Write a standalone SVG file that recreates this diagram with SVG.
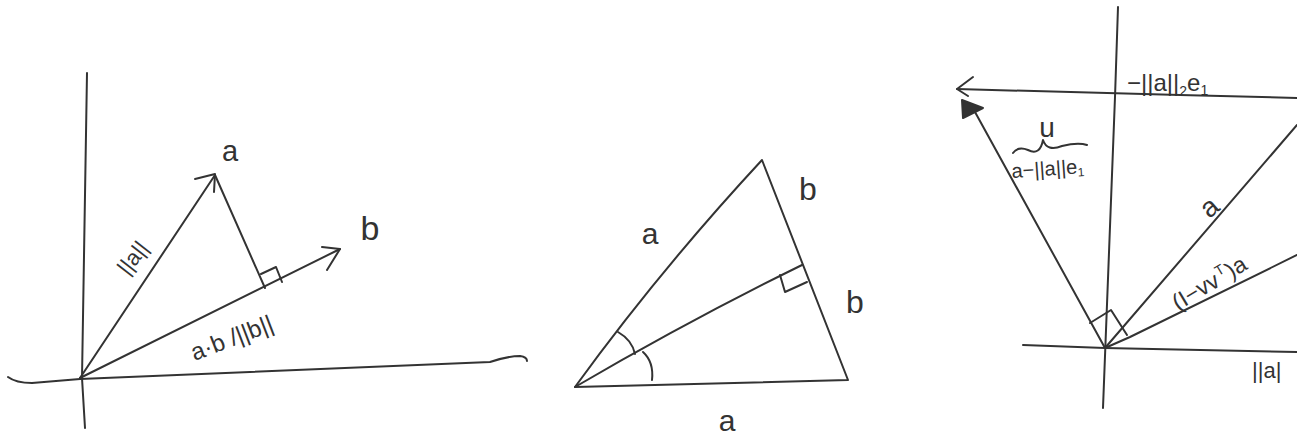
<svg xmlns="http://www.w3.org/2000/svg" width="1297" height="438" viewBox="0 0 1297 438">
<style>
.ln{fill:none;stroke:#333;stroke-width:2;stroke-linecap:round;stroke-linejoin:round}
.tx{font-family:"Liberation Sans",Arial,sans-serif;fill:#333}
</style>
<rect width="1297" height="438" fill="#fff"/>
<g id="connectors">
<!-- panel 1 -->
<path class="ln" d="M87,73 L82,378 L85,428"/>
<path class="ln" d="M8,377 Q16,383 32,383 L80,379 L490,362 Q508,356 520,356 Q527,357 527,361"/>
<path class="ln" d="M80,378 L215,175"/>
<path class="ln" d="M195,179 L215,174 L214,192"/>
<path class="ln" d="M215,175 L265,288"/>
<path class="ln" d="M80,378 L340,249"/>
<path class="ln" d="M322,247 L340,249 L327,270"/>
<path class="ln" d="M261,274 L276,267 L282,282"/>
<!-- panel 2 -->
<path class="ln" d="M575,387 Q660,270 762,160 L848,380 L575,387"/>
<path class="ln" d="M575,387 Q690,320 802,265"/>
<path class="ln" d="M780,275 L785,292 L807,282"/>
<path class="ln" d="M618,332 Q632,340 635,354"/>
<path class="ln" d="M643,352 Q654,362 652,380"/>
<!-- panel 3 -->
<path class="ln" d="M1118,7 L1115,97 L1103,408"/>
<path class="ln" d="M957,89 L1180,95 L1297,98"/>
<path class="ln" d="M973,77 L957,89 L968,96"/>
<polygon points="962,100 983,108 963,118" fill="#333" stroke="#333" stroke-width="2" stroke-linejoin="round"/>
<path class="ln" d="M1105,348 L975,112"/>
<path class="ln" d="M1023,345 L1105,348 L1297,352"/>
<path class="ln" d="M1105,348 L1297,125"/>
<path class="ln" d="M1105,348 L1130,337 L1297,255"/>
<path class="ln" d="M1090,323 L1111,310 L1127,335"/>
<path class="ln" d="M1013,153 Q1018,146 1028,150 Q1040,156 1043,140 Q1047,152 1062,146 Q1078,142 1087,145"/>
</g>
<g id="labels1">
<text class="tx" x="230" y="161" font-size="29" text-anchor="middle">a</text>
<text class="tx" x="370" y="240" font-size="34" text-anchor="middle">b</text>
<text class="tx" x="133" y="265" font-size="22" text-anchor="middle" transform="rotate(-52 133 258)">||a||</text>
<text class="tx" x="232" y="346" font-size="24" text-anchor="middle" transform="rotate(-21 232 338)">a·b /||b||</text>
</g>
<g id="labels2">
<text class="tx" x="650" y="244" font-size="30" text-anchor="middle">a</text>
<text class="tx" x="808" y="200" font-size="32" text-anchor="middle">b</text>
<text class="tx" x="855" y="313" font-size="32" text-anchor="middle">b</text>
<text class="tx" x="727" y="431" font-size="30" text-anchor="middle">a</text>
</g>
<g id="labels3">
<text class="tx" x="1127" y="91" font-size="24">−||a||<tspan font-size="14" dy="5">2</tspan><tspan dy="-5">e</tspan><tspan font-size="14" dy="4">1</tspan></text>
<text class="tx" x="1047" y="137" font-size="28" text-anchor="middle">u</text>
<text class="tx" x="1012" y="178" font-size="20" transform="rotate(-4 1012 178)">a−||a||e<tspan font-size="12" dy="3">1</tspan></text>
<text class="tx" x="1210" y="216" font-size="28" text-anchor="middle" transform="rotate(-40 1210 208)">a</text>
<text class="tx" x="1178" y="311" font-size="23" transform="rotate(-31 1178 311)">(I−vv<tspan font-size="14" dx="2" dy="-9">T</tspan><tspan dx="1" dy="9">)a</tspan></text>
<text class="tx" x="1252" y="378" font-size="22">||a|</text>
</g>
</svg>
